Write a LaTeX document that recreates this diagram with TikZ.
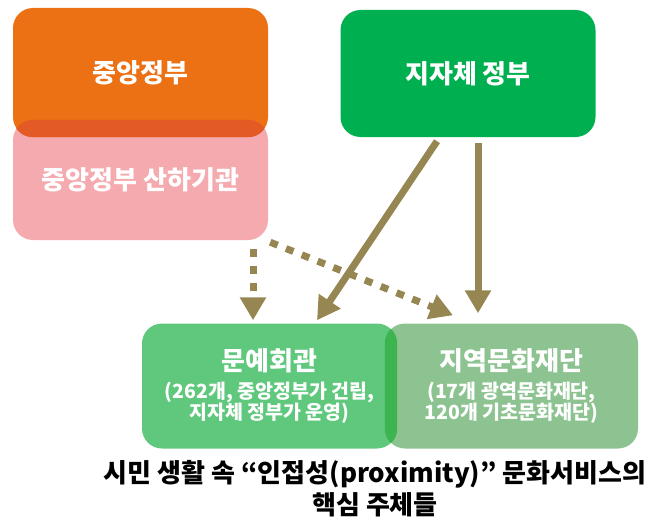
\documentclass[tikz,border=0pt]{standalone}
\usepackage{fontspec}
\setmainfont{Noto Sans CJK KR}
\usetikzlibrary{arrows.meta}
\definecolor{orangeA}{RGB}{236,112,20}
\definecolor{orangeOv}{RGB}{227,90,37}
\definecolor{pinkA}{RGB}{244,170,175}
\definecolor{greenA}{RGB}{0,176,80}
\definecolor{greenB}{RGB}{95,200,125}
\definecolor{greenC}{RGB}{140,195,145}
\definecolor{greenOv}{RGB}{60,180,80}
\definecolor{olive}{RGB}{150,135,82}
\newcommand\subtxt{\fontsize{19.5}{21}\selectfont}
\newcommand\bigtxt{\fontsize{26}{28}\selectfont}
\begin{document}
\begin{tikzpicture}[x=1pt,y=-1pt,
 box/.style={rectangle, rounded corners=20pt, minimum width=255pt, text=white,
   font=\bfseries\bigtxt, align=center, inner sep=0pt},
 arr/.style={draw=olive, line width=7pt, -{Triangle[width=25pt,length=23pt]}},
 darr/.style={arr, dash pattern=on 8pt off 9pt}
]
\useasboundingbox (0,0) rectangle (652,519);

% top left stack
\node[box, fill=pinkA, minimum height=120pt] (b) at (140.5,180) {중앙정부 산하기관};
\node[box, fill=orangeA, minimum height=129pt] (a) at (140.5,72.5) {중앙정부};
\begin{scope}
  \clip[rounded corners=20pt] (b.south west) rectangle (b.north east);
  \fill[orangeOv, rounded corners=20pt] (a.south west) rectangle (a.north east);
\end{scope}

% top right
\node[box, fill=greenA, minimum height=127pt] (c) at (468,73.5) {지자체 정부};

% bottom boxes
\node[box, fill=greenB, minimum height=125pt] (d) at (269.5,386)
  {{\bigtxt 문예회관}\\{\subtxt (262개, 중앙정부가 건립,}\\[-7pt]{\subtxt 지자체 정부가 운영)}};
\node[box, fill=greenC, minimum height=125pt, minimum width=253pt] (e) at (511.5,386)
  {{\bigtxt 지역문화재단}\\{\subtxt (17개 광역문화재단,}\\[-7pt]{\subtxt 120개 기초문화재단)}};
\begin{scope}
  \clip[rounded corners=20pt] (e.south west) rectangle (e.north east);
  \fill[greenOv, rounded corners=20pt] (d.south west) rectangle (d.north east);
\end{scope}

% arrows
\draw[darr] ([xshift=112.5pt,yshift=-9pt]b.south) -- ([xshift=-16.5pt,yshift=3pt]d.north);
\draw[darr] ([xshift=2pt,yshift=-2pt]b.south east) -- ([xshift=-58.5pt,yshift=8pt]e.north);
\draw[arr] ([xshift=-31pt,yshift=-4pt]c.south) -- ([xshift=47.5pt,yshift=3pt]d.north);
\draw[arr] ([xshift=10pt,yshift=-6pt]c.south) -- ([xshift=-33.5pt,yshift=10pt]e.north);

% caption
\node[font=\bfseries\fontsize{26}{32}\selectfont, align=center, inner sep=0pt] (cap) at (375,489)
  {시민 생활 속 “인접성(proximity)” 문화서비스의\\핵심 주체들};
\end{tikzpicture}
\end{document}
